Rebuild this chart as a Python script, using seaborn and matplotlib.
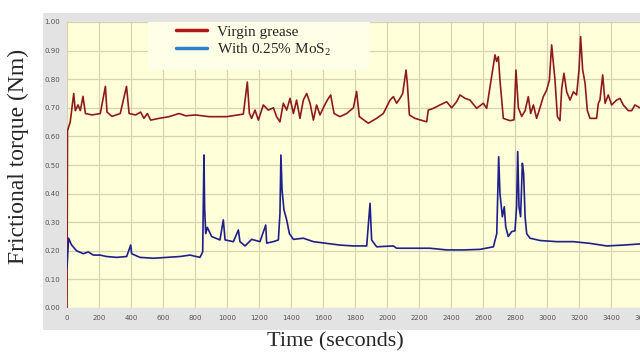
import pandas as pd
import matplotlib.pyplot as plt
import seaborn as sns
from matplotlib.lines import Line2D
from matplotlib.patches import Rectangle

# Virgin grease (red trace)
time_virgin = [0, 3, 20, 42, 52, 69, 83, 100, 115, 156, 208, 240, 250, 281, 333, 372, 388, 429, 460,
               481, 502, 523, 575, 638, 700, 742, 804, 888, 998, 1102, 1127, 1140, 1154, 1175, 1196,
               1227, 1258, 1290, 1310, 1331, 1352, 1373, 1394, 1415, 1435, 1456, 1477, 1498, 1519,
               1540, 1560, 1581, 1602, 1627, 1648, 1669, 1706, 1748, 1790, 1810, 1827, 1883, 1935,
               1977, 2019, 2040, 2060, 2081, 2098, 2119, 2127, 2140, 2175, 2248, 2258, 2290, 2331,
               2373, 2404, 2435, 2456, 2488, 2519, 2560, 2602, 2623, 2644, 2660, 2675, 2685, 2696,
               2706, 2727, 2769, 2794, 2806, 2821, 2842, 2863, 2883, 2898, 2915, 2935, 2956, 2977,
               2998, 3015, 3029, 3040, 3050, 3065, 3081, 3092, 3106, 3123, 3144, 3165, 3185, 3200,
               3210, 3223, 3238, 3252, 3269, 3310, 3321, 3331, 3348, 3363, 3383, 3404, 3435, 3456,
               3477, 3508, 3529, 3550, 3580]
torque_virgin = [0.0, 0.62, 0.65, 0.75, 0.69, 0.71, 0.69, 0.74, 0.68, 0.675, 0.68, 0.775, 0.685, 0.67,
                 0.68, 0.775, 0.68, 0.675, 0.685, 0.663, 0.68, 0.657, 0.663, 0.669, 0.68, 0.672, 0.675,
                 0.669, 0.669, 0.678, 0.79, 0.68, 0.663, 0.692, 0.657, 0.71, 0.692, 0.70, 0.669, 0.651,
                 0.716, 0.692, 0.733, 0.68, 0.727, 0.663, 0.727, 0.75, 0.716, 0.657, 0.71, 0.675, 0.70,
                 0.727, 0.745, 0.68, 0.669, 0.68, 0.70, 0.757, 0.669, 0.646, 0.663, 0.68, 0.727, 0.739,
                 0.716, 0.733, 0.75, 0.832, 0.786, 0.675, 0.663, 0.651, 0.692, 0.698, 0.71, 0.721, 0.70,
                 0.721, 0.745, 0.733, 0.727, 0.698, 0.716, 0.698, 0.774, 0.832, 0.885, 0.862, 0.879,
                 0.797, 0.663, 0.655, 0.658, 0.832, 0.70, 0.67, 0.69, 0.739, 0.68, 0.71, 0.663, 0.70,
                 0.739, 0.762, 0.797, 0.92, 0.856, 0.797, 0.669, 0.655, 0.768, 0.821, 0.756, 0.727,
                 0.756, 0.745, 0.832, 0.949, 0.832, 0.786, 0.69, 0.663, 0.663, 0.716, 0.727, 0.815,
                 0.716, 0.745, 0.71, 0.727, 0.733, 0.71, 0.69, 0.69, 0.71, 0.70]

# With 0.25% MoS2 (blue trace)
time_mos2 = [0, 10, 29, 60, 102, 133, 165, 206, 248, 310, 373, 398, 404, 456, 540, 623, 706, 769, 831,
             848, 856, 860, 867, 877, 904, 956, 977, 988, 1040, 1071, 1081, 1113, 1154, 1206, 1242,
             1248, 1290, 1321, 1331, 1337, 1344, 1356, 1373, 1390, 1415, 1477, 1540, 1623, 1706, 1789,
             1873, 1894, 1904, 1935, 2040, 2060, 2165, 2269, 2373, 2477, 2581, 2665, 2686, 2698, 2706,
             2721, 2733, 2742, 2758, 2779, 2800, 2810, 2817, 2825, 2835, 2846, 2854, 2863, 2873, 2894,
             2956, 3060, 3165, 3269, 3373, 3477, 3580]
torque_mos2 = [0.14, 0.244, 0.22, 0.20, 0.19, 0.196, 0.185, 0.185, 0.18, 0.177, 0.18, 0.22, 0.19, 0.177,
               0.174, 0.177, 0.18, 0.185, 0.177, 0.196, 0.535, 0.354, 0.26, 0.282, 0.25, 0.238, 0.308,
               0.238, 0.232, 0.273, 0.232, 0.217, 0.24, 0.232, 0.29, 0.227, 0.232, 0.238, 0.331, 0.535,
               0.413, 0.343, 0.308, 0.26, 0.24, 0.244, 0.232, 0.226, 0.22, 0.217, 0.217, 0.366, 0.238,
               0.214, 0.217, 0.209, 0.209, 0.209, 0.203, 0.203, 0.205, 0.214, 0.26, 0.529, 0.40, 0.319,
               0.354, 0.284, 0.25, 0.267, 0.27, 0.354, 0.547, 0.354, 0.319, 0.506, 0.47, 0.319, 0.26,
               0.244, 0.236, 0.232, 0.232, 0.226, 0.217, 0.22, 0.224]

x_ticks = list(range(0, 3601, 200))
y_ticks = [0.0, 0.1, 0.2, 0.3, 0.4, 0.5, 0.6, 0.7, 0.8, 0.9, 1.0]

df_v = pd.DataFrame({'time': time_virgin, 'torque': torque_virgin})
df_m = pd.DataFrame({'time': time_mos2, 'torque': torque_mos2})

sns.set_style('white')
plt.rcParams['mathtext.fontset'] = 'custom'
plt.rcParams['mathtext.rm'] = 'Liberation Serif'
plt.rcParams['mathtext.it'] = 'Liberation Serif'
plt.rcParams['mathtext.bf'] = 'Liberation Serif'

W, H = 640, 352
fig = plt.figure(figsize=(6.4, 3.52), dpi=100)

# grey window frame behind the plot area
fig.patches.append(Rectangle((43 / W, 1 - 330 / H), 1 - 43 / W, (330 - 13) / H,
                             transform=fig.transFigure, facecolor='#E3E3E3', edgecolor='none', zorder=-10))

ax = fig.add_axes([67 / W, 1 - 308 / H, 576 / W, 286 / H])
ax.set_zorder(1)
ax.set_facecolor('#FFFFD9')

sns.lineplot(data=df_v, x='time', y='torque', ax=ax, color='#8E1B1B', lw=1.2, estimator=None)
sns.lineplot(data=df_m, x='time', y='torque', ax=ax, color='#1F1F8C', lw=1.2, estimator=None)

ax.set_xlim(0, 3600)
ax.set_ylim(0, 1.0)
ax.set_xticks(x_ticks)
ax.set_yticks(y_ticks)
ax.set_xticklabels([str(t) for t in x_ticks])
ax.set_yticklabels([f'{v:.2f}' for v in y_ticks])
ax.tick_params(labelsize=5, colors='#555555', length=3, width=0.6, pad=2)
ax.grid(True, color='#D6D2B2', lw=0.9)
ax.set_axisbelow(True)
for s in ax.spines.values():
    s.set_visible(False)
ax.set_xlabel('')
ax.set_ylabel('')

# pale legend panel
ax.add_patch(Rectangle((81 / 576, (308 - 70) / 286), 222 / 576, 48 / 286, transform=ax.transAxes,
                       facecolor='#FFFFE8', edgecolor='none', zorder=3, clip_on=False))
handles = [Line2D([], [], color='#B01818', lw=2.5), Line2D([], [], color='#2E80CC', lw=2.5)]
leg = ax.legend(handles, ['Virgin grease', 'With 0.25% MoS$_2$'], loc='upper left',
                bbox_to_anchor=((176 - 67) / 576, (308 - 25) / 286), frameon=False,
                handlelength=2.0, handletextpad=0.7, labelspacing=0.2, borderpad=0, borderaxespad=0,
                prop={'family': 'Liberation Serif', 'size': 11})
leg.set_zorder(4)

fig.text(18 / W, 1 - 156 / H, 'Frictional torque (Nm)', rotation=90, ha='center', va='center',
         family='Liberation Serif', fontsize=17)
fig.text(335 / W, 1 - 342 / H, 'Time (seconds)', ha='center', va='center',
         family='Liberation Serif', fontsize=16)

plt.savefig('out.png', dpi=100)
